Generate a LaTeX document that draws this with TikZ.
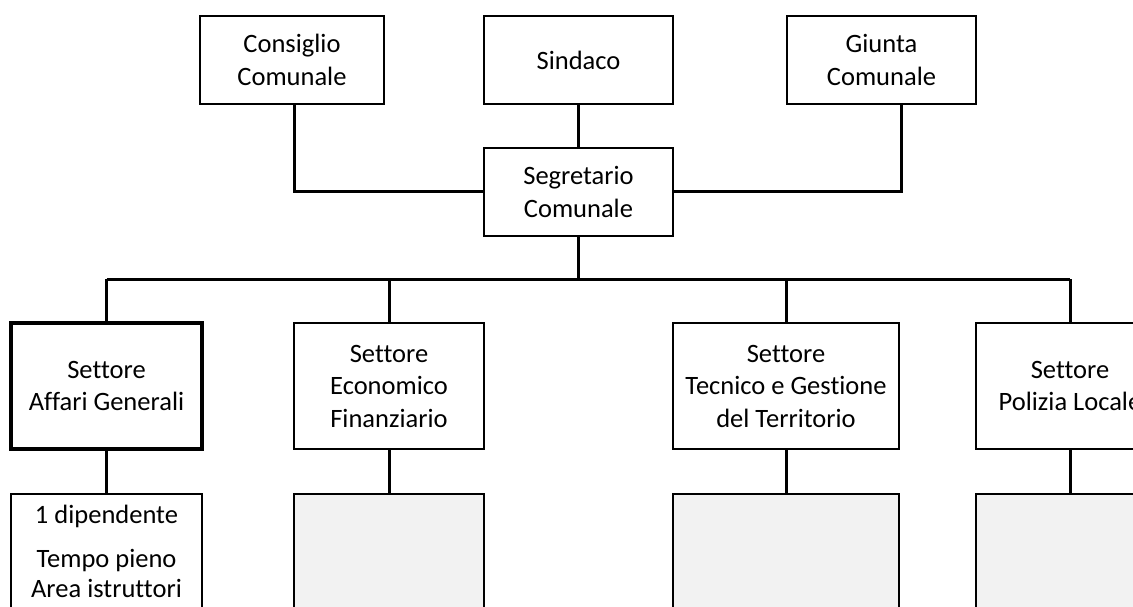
\documentclass[tikz,border=0pt]{standalone}
\usepackage{fontspec}
\setmainfont{Carlito}[Ligatures=NoCommon]
\begin{document}
\begin{tikzpicture}[x=1pt,y=-1pt,
        box/.style={draw,line width=2.2pt,align=center,inner sep=0pt,
            font=\fontsize{26.5}{32.5}\selectfont},
        lowbox/.style={box,fill=gray!10,anchor=north,minimum height=140pt},
        link/.style={line width=3pt}]
    \useasboundingbox (0,0) rectangle (1133,607);
    \clip (0,0) rectangle (1133,607);

    % vertice
    \node[box,minimum width=184pt,minimum height=88pt] (consiglio) at (292,60) {Consiglio\\Comunale};
    \node[box,minimum width=189pt,minimum height=88pt] (sindaco) at (578.5,60) {Sindaco};
    \node[box,minimum width=189pt,minimum height=88pt] (giunta) at (881.5,60) {Giunta\\Comunale};
    \node[box,minimum width=189pt,minimum height=88pt] (segretario) at (578.5,192) {Segretario\\Comunale};

    % settori
    \node[box,line width=3.5pt,minimum width=191pt,minimum height=126pt] (affari) at (106.5,386) {Settore\\Affari Generali};
    \node[box,minimum width=190pt,minimum height=126pt] (economico) at (389,386) {Settore\\Economico\\Finanziario};
    \node[box,minimum width=226pt,minimum height=126pt] (tecnico) at (786,386) {Settore\\Tecnico e Gestione\\del Territorio};
    \node[box,minimum width=188pt,minimum height=126pt] (polizia) at (1070,386) {Settore\\Polizia Locale};

    % personale
    \node[lowbox,fill=white,minimum width=191pt] (persAG) at (106.5,493)
        {\parbox[t][138pt][t]{185pt}{\centering\vspace{10pt}1 dipendente\\[11pt]Tempo pieno\\[-2pt]Area istruttori}};
    \node[lowbox,minimum width=190pt] (persEF) at (389,493) {};
    \node[lowbox,minimum width=226pt] (persTG) at (786,493) {};
    \node[lowbox,minimum width=188pt] (persPL) at (1070,493) {};

    \coordinate (bus) at (0,279);

    \draw[link] (sindaco) -- (segretario);
    \draw[link] ([xshift=2pt]consiglio.south) |- (segretario.west);
    \draw[link] ([xshift=19.5pt]giunta.south) |- (segretario.east);
    \draw[link] (segretario.south) -- (segretario.south |- bus);
    \draw[link] (affari.north |- bus) -- (polizia.north |- bus);
    \foreach \s in {affari,economico,tecnico,polizia}
        \draw[link] (\s.north |- bus) -- (\s.north);
    \draw[link] (affari) -- (persAG);
    \draw[link] (economico) -- (persEF);
    \draw[link] (tecnico) -- (persTG);
    \draw[link] (polizia) -- (persPL);
\end{tikzpicture}
\end{document}
